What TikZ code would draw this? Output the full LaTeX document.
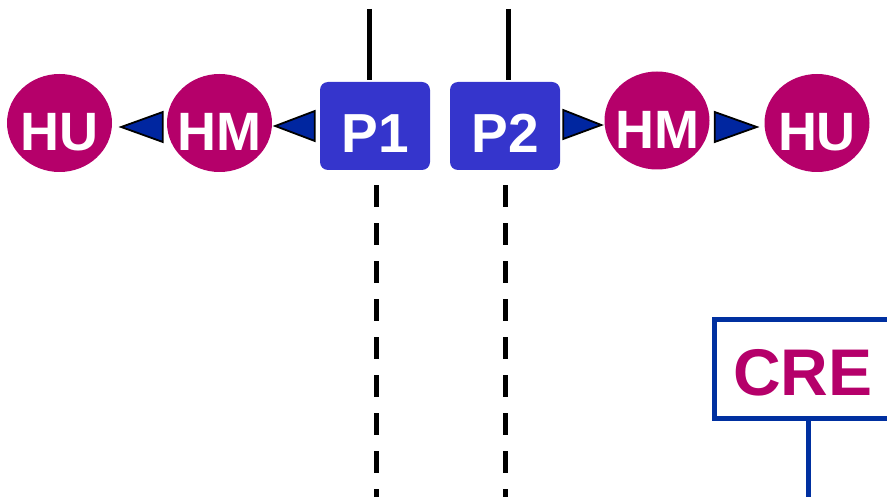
\documentclass[tikz,border=0pt]{standalone}
\usepackage{fontspec}
\setmainfont{Liberation Sans}
\usetikzlibrary{shapes.geometric,calc}
\definecolor{mag}{HTML}{B5006A}
\definecolor{pblue}{HTML}{3535CC}
\definecolor{tblue}{HTML}{0026A0}
\definecolor{cblue}{HTML}{0030A0}
\newcommand{\zw}[1]{\makebox[0pt]{#1}}
\begin{document}
\begin{tikzpicture}[x=1pt,y=-1pt,
  circ/.style={ellipse, fill=mag, text=white, font=\fontsize{54}{54}\selectfont\bfseries,
    minimum width=105pt, minimum height=98pt, inner sep=0pt, text height=56pt, text depth=0pt},
  pbox/.style={rectangle, rounded corners=8pt, fill=pblue, text=white, font=\fontsize{55}{55}\selectfont\bfseries,
    minimum width=110pt, minimum height=88pt, inner sep=0pt, text height=54pt, text depth=0pt},
  tri/.style={fill=tblue, draw=black, line width=1.8pt, line join=miter},
  solidline/.style={line width=5pt, draw=black},
  dashline/.style={line width=5pt, draw=black, dash pattern=on 22pt off 16pt},
  crebox/.style={rectangle, draw=cblue, line width=5pt, text=mag, font=\fontsize{66}{66}\selectfont\bfseries,
    minimum width=187pt, minimum height=98pt, inner sep=0pt, text height=52pt, text depth=0pt},
  creline/.style={line width=5pt, draw=cblue}
]
\useasboundingbox (0,0) rectangle (887,497);
\clip (0,0) rectangle (887,497);

\node[circ] (HU1) at (59.5,123) {\zw{HU}};
\node[circ] (HM1) at (219.5,123) {\zw{HM}};
\node[pbox] (P1) at (375,126) {P1};
\node[pbox] (P2) at (505,126) {P2};
\node[circ] (HM2) at (657,120.5) {\zw{HM}};
\node[circ] (HU2) at (817,123) {\zw{HU}};

\node[crebox] (CRE) at (808,369) {\hspace*{-10pt}CRE};

% arrowheads
\filldraw[tri] ($(HU1.east)+(9,4)$) -- ($(HM1.west)+(-4,-11)$) -- ($(HM1.west)+(-4,19)$) -- cycle;
\filldraw[tri] ($(HM1.east)+(3,3)$) -- ($(P1.west)+(-5,-15)$) -- ($(P1.west)+(-5,15)$) -- cycle;
\filldraw[tri] ($(HM2.west)+(-3,4.5)$) -- ($(P2.east)+(3,-16)$) -- ($(P2.east)+(3,13)$) -- cycle;
\filldraw[tri] ($(HU2.west)+(-7.5,4)$) -- ($(HM2.east)+(5,-8.5)$) -- ($(HM2.east)+(5,21.5)$) -- cycle;

% lifelines
\coordinate (t1) at (369,9);
\coordinate (t2) at (508,9);
\coordinate (d1) at (376,530);
\coordinate (d2) at (505.5,530);
\coordinate (c1) at (808,530);
\draw[solidline] (t1) -- ($(t1 |- P1.north)+(0,-2)$);
\draw[solidline] (t2) -- ($(t2 |- P2.north)+(0,-2)$);
\draw[dashline] ($(d1 |- P1.south)+(0,15)$) -- (d1);
\draw[dashline] ($(d2 |- P2.south)+(0,15)$) -- (d2);
\draw[creline] (CRE.south) -- (c1);
\end{tikzpicture}
\end{document}
